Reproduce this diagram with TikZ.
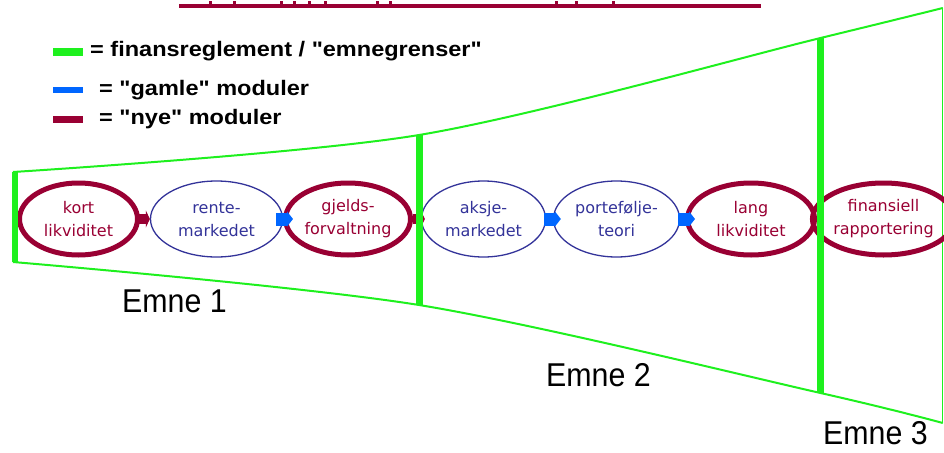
\documentclass[tikz,border=0pt]{standalone}
\usepackage{fontspec}
\setmainfont{Liberation Sans}
\newfontfamily\arialf{Liberation Sans}
\newfontfamily\modf{DejaVu Sans}
\usetikzlibrary{shapes.geometric,arrows.meta}
\definecolor{modred}{RGB}{153,0,51}
\definecolor{modblue}{RGB}{51,51,153}
\definecolor{arrblue}{RGB}{0,102,255}
\definecolor{fgreen}{RGB}{30,240,30}
\tikzset{
  newmod/.style={ellipse, draw=modred, line width=5pt, inner sep=0pt, align=center,
     text=modred, font=\modf\fontsize{16}{23}\selectfont},
  oldmod/.style={ellipse, draw=modblue, line width=1.3pt, inner sep=0pt, align=center,
     text=modblue, font=\modf\fontsize{16}{23}\selectfont},
  redconn/.style={draw=modred, line width=10pt, -{Triangle[length=4pt,width=17pt]}},
  blueconn/.style={draw=arrblue, line width=13pt, -{Triangle[length=6pt,width=15pt]}},
  border/.style={draw=fgreen, line width=2pt},
  bar/.style={draw=fgreen, line width=7pt},
  legtext/.style={anchor=base west, inner sep=0pt, xscale=1.12,
     font=\arialf\bfseries\fontsize{21}{24}\selectfont},
  emne/.style={anchor=base west, inner sep=0pt, xscale=0.92,
     font=\arialf\fontsize{33}{38}\selectfont},
}
\begin{document}
\begin{tikzpicture}[x=1pt,y=-1pt]
\useasboundingbox (0,0) rectangle (944,452);
% title underline (title text itself cut off above the picture)
\draw[modred, line width=4pt] (179,6) -- (761,6);
\foreach \xa/\xb in {209/212,233/236,280/283,293/296,308/311,324/327,376/379,389/392,555/558,575/578,612/615}
  \fill[modred] (\xa,1) rectangle (\xb,4);
% legend
\fill[fgreen] (53,48.5) rectangle (83,56.5);
\fill[arrblue] (53,87) rectangle (83,93);
\fill[modred] (53,116) rectangle (83,123);
\node[legtext] (lg1) at (90,56.7) {= finansreglement / "emnegrenser"};
\node[legtext] (lg2) at (99,95) {= "gamle" moduler};
\node[legtext] (lg3) at (99,124.3) {= "nye" moduler};
% funnel outline
\coordinate (t0) at (13,172); \coordinate (b0) at (13,262);
\coordinate (t1) at (419,135); \coordinate (b1) at (419,305);
\coordinate (t2) at (820.5,38); \coordinate (b2) at (820.5,393);
\coordinate (t3) at (942.8,8); \coordinate (b3) at (942.8,423);
\draw[border] plot[smooth, tension=0.5] coordinates {(13,172) (419,135) (820.5,38) (942.8,8)};
\draw[border] plot[smooth, tension=0.5] coordinates {(13,262) (419,305) (820.5,393) (942.8,423)};
\draw[draw=fgreen, line width=1.3pt] (t3) -- (b3);
% modules
\node[newmod, minimum width=118pt, minimum height=72pt] (kort) at (78.5,219) {kort\\likviditet};
\node[oldmod, minimum width=132pt, minimum height=76pt] (rente) at (216.5,219) {rente-\\markedet};
\node[newmod, minimum width=125pt, minimum height=72pt] (gjeld) at (348,219) {gjelds-\\forvaltning};
\node[oldmod, minimum width=124pt, minimum height=76pt] (aksje) at (483.5,219) {aksje-\\markedet};
\node[oldmod, minimum width=126pt, minimum height=76pt] (port) at (616.5,219) {portefølje-\\teori};
\node[newmod, minimum width=127pt, minimum height=72pt] (lang) at (751,219) {lang\\likviditet};
\node[newmod, minimum width=114pt, minimum height=72pt] (fin) at (883.5,219) {finansiell\\rapportering};
% connectors
\draw[redconn] ([xshift=-2pt]kort.east) -- (rente.west);
\draw[blueconn] ([xshift=-7pt]rente.east) -- ([xshift=10pt]gjeld.west);
\draw[redconn] (gjeld.east) -- ([xshift=4pt]aksje.west);
\draw[blueconn] ([xshift=-2pt]aksje.east) -- ([xshift=8pt]port.west);
\draw[blueconn] ([xshift=-2pt]port.east) -- ([xshift=10pt]lang.west);
% subject boundaries
\draw[bar, line width=6.5pt] ([xshift=2pt]t0) -- ([xshift=2pt]b0);
\draw[bar] (t1) -- (b1);
\draw[bar] (t2) -- (b2);
% subject labels
\node[emne] (e1) at (122,312) {Emne 1};
\node[emne] (e2) at (546,386) {Emne 2};
\node[emne] (e3) at (823,444) {Emne 3};
\end{tikzpicture}
\end{document}
